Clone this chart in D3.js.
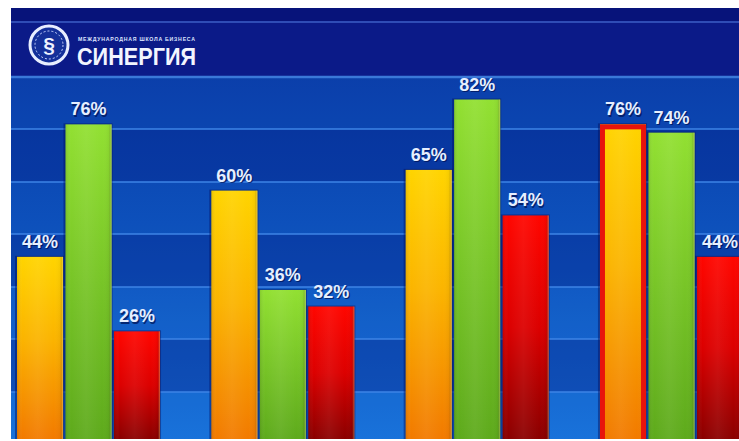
<!DOCTYPE html>
<html><head><meta charset="utf-8">
<script src="https://cdn.jsdelivr.net/npm/d3@7/dist/d3.min.js"></script>
<style>html,body{margin:0;padding:0;background:#fff;}svg{display:block;}</style>
</head><body>
<script>
const groups = ["1", "2", "3", "4"];
const seriesKeys = ["yellow", "green", "red"];
const yellowValues = [44, 60, 65, 76];
const greenValues = [76, 36, 82, 74];
const redValues = [26, 32, 54, 44];
const highlighted = {group: "4", key: "yellow"};
const logoText = "СИНЕРГИЯ";
const logoSub = "МЕЖДУНАРОДНАЯ ШКОЛА БИЗНЕСА";

const W = 739, H = 441;
const panel = {x: 11, y: 8, w: 728, h: 431};
const svg = d3.select("body").append("svg").attr("width", W).attr("height", H);
const defs = svg.append("defs");

defs.append("clipPath").attr("id", "panelClip").append("rect")
  .attr("x", panel.x).attr("y", panel.y).attr("width", panel.w).attr("height", panel.h);

function vgrad(id, stops) {
  const g = defs.append("linearGradient").attr("id", id).attr("x1", 0).attr("y1", 0).attr("x2", 0).attr("y2", 1);
  stops.forEach(s => g.append("stop").attr("offset", s[0]).attr("stop-color", s[1]).attr("stop-opacity", s[2] == null ? 1 : s[2]));
}
function hgrad(id, stops) {
  const g = defs.append("linearGradient").attr("id", id).attr("x1", 0).attr("y1", 0).attr("x2", 1).attr("y2", 0);
  stops.forEach(s => g.append("stop").attr("offset", s[0]).attr("stop-color", s[1]).attr("stop-opacity", s[2] == null ? 1 : s[2]));
}
vgrad("bg", [[0, "#0a3aa6"], [0.5, "#0f55c0"], [1, "#1c7ae2"]]);
vgrad("g-yellow", [[0, "#ffd400"], [0.45, "#fbb400"], [1, "#f27a00"]]);
vgrad("g-green", [[0, "#92e032"], [1, "#5eaa1c"]]);
vgrad("g-red", [[0, "#ff0600"], [0.5, "#dc0000"], [1, "#8a0000"]]);
hgrad("shine", [[0, "#000", 0.1], [0.12, "#fff", 0.0], [0.45, "#fff", 0.06], [0.8, "#fff", 0.0], [0.94, "#000", 0.04], [1, "#ffe98a", 0.45]]);

const root = svg.append("g").attr("clip-path", "url(#panelClip)");

// background
root.append("rect").attr("x", panel.x).attr("y", panel.y).attr("width", panel.w).attr("height", panel.h).attr("fill", "url(#bg)");

// bands and grid lines (decorative)
const gridYs = [78, 129, 182, 234, 287, 339, 392, 439];
const bandData = d3.pairs(gridYs);
root.selectAll("rect.band").data(bandData).join("rect").attr("class", "band")
  .attr("x", panel.x).attr("width", panel.w)
  .attr("y", d => d[0]).attr("height", d => d[1] - d[0])
  .attr("fill", "#001a80").attr("opacity", (d, i) => i % 2 === 1 ? 0.4 : 0.08);
root.selectAll("line.grid").data(gridYs.slice(1, -1)).join("line").attr("class", "grid")
  .attr("x1", panel.x).attr("x2", panel.x + panel.w)
  .attr("y1", d => d).attr("y2", d => d)
  .attr("stroke", "#3d84e6").attr("stroke-width", 2).attr("opacity", 0.75);

// header
root.append("rect").attr("x", panel.x).attr("y", panel.y).attr("width", panel.w).attr("height", 69).attr("fill", "#0b1a88");
root.append("rect").attr("x", panel.x).attr("y", panel.y).attr("width", panel.w).attr("height", 13).attr("fill", "#07137a");
root.append("line").attr("x1", panel.x).attr("x2", panel.x + panel.w).attr("y1", 22).attr("y2", 22).attr("stroke", "#2f4cb5").attr("stroke-width", 2);
root.append("line").attr("x1", panel.x).attr("x2", panel.x + panel.w).attr("y1", 77).attr("y2", 77).attr("stroke", "#3a78d8").attr("stroke-width", 2.5);

// logo
const logo = root.append("g");
logo.append("circle").attr("cx", 49).attr("cy", 45).attr("r", 19).attr("fill", "#14309a").attr("stroke", "#e8eeff").attr("stroke-width", 3);
logo.append("circle").attr("cx", 49).attr("cy", 45).attr("r", 14).attr("fill", "none").attr("stroke", "#c8d4ff").attr("stroke-width", 1).attr("stroke-dasharray", "2,2");
logo.append("text").attr("x", 49).attr("y", 52).attr("text-anchor", "middle")
  .attr("font-family", "Liberation Sans, Arial, sans-serif").attr("font-weight", "bold").attr("font-size", 21)
  .attr("fill", "#eef2ff").text("§");
logo.append("text").attr("x", 78).attr("y", 41).attr("font-family", "Liberation Sans, Arial, sans-serif")
  .attr("font-weight", "bold").attr("font-size", 5.2).attr("fill", "#dfe6ff").attr("textLength", 117).text(logoSub);
logo.append("text").attr("x", 77).attr("y", 65).attr("font-family", "Liberation Sans, Arial, sans-serif")
  .attr("font-weight", "bold").attr("font-size", 23).attr("fill", "#f2f5ff").attr("textLength", 119)
  .attr("lengthAdjust", "spacingAndGlyphs").text(logoText);

// scales
const x0 = d3.scaleBand().domain(groups).range([17, 743]).paddingInner(0.264).paddingOuter(0);
const x1 = d3.scaleBand().domain(seriesKeys).range([0, x0.bandwidth()]).paddingInner(0.05);
const y = d3.scaleLinear().domain([0, 100]).range([439, 25]);

const valuesByKey = {yellow: yellowValues, green: greenValues, red: redValues};
const data = [];
groups.forEach((g, gi) => seriesKeys.forEach(k => data.push({group: g, key: k, value: valuesByKey[k][gi]})));

const bars = root.append("g");
bars.selectAll("rect.shadow").data(data).join("rect").attr("class", "shadow")
  .attr("x", d => x0(d.group) + x1(d.key) - 2)
  .attr("y", d => y(d.value) - 1)
  .attr("width", x1.bandwidth() + 3)
  .attr("height", d => y(0) - y(d.value) + 1)
  .attr("fill", "#001060").attr("opacity", 0.45);
bars.selectAll("rect.bar").data(data).join("rect").attr("class", "bar")
  .attr("x", d => x0(d.group) + x1(d.key))
  .attr("y", d => y(d.value))
  .attr("width", x1.bandwidth())
  .attr("height", d => y(0) - y(d.value))
  .attr("fill", d => `url(#g-${d.key})`);
bars.selectAll("rect.shine").data(data).join("rect").attr("class", "shine")
  .attr("x", d => x0(d.group) + x1(d.key))
  .attr("y", d => y(d.value))
  .attr("width", x1.bandwidth())
  .attr("height", d => y(0) - y(d.value))
  .attr("fill", "url(#shine)");
const hl = data.filter(d => d.group === highlighted.group && d.key === highlighted.key);
bars.selectAll("rect.hl").data(hl).join("rect").attr("class", "hl")
  .attr("x", d => x0(d.group) + x1(d.key) + 2.5)
  .attr("y", d => y(d.value) + 2.5)
  .attr("width", x1.bandwidth() - 5)
  .attr("height", d => y(0) - y(d.value))
  .attr("fill", "none").attr("stroke", "#e8140c").attr("stroke-width", 5);

// labels
const labels = root.append("g").attr("font-family", "Liberation Sans, Arial, sans-serif")
  .attr("font-weight", "bold").attr("font-size", 18).attr("text-anchor", "middle");
labels.selectAll("text.sh").data(data).join("text").attr("class", "sh")
  .attr("x", d => x0(d.group) + x1(d.key) + x1.bandwidth() / 2 + 1.2)
  .attr("y", d => y(d.value) - 9 + 1.2)
  .attr("fill", "#001050").attr("opacity", 0.7)
  .text(d => d.value + "%");
labels.selectAll("text.lb").data(data).join("text").attr("class", "lb")
  .attr("x", d => x0(d.group) + x1(d.key) + x1.bandwidth() / 2)
  .attr("y", d => y(d.value) - 9)
  .attr("fill", "#e6efff")
  .text(d => d.value + "%");
</script>
</body></html>
